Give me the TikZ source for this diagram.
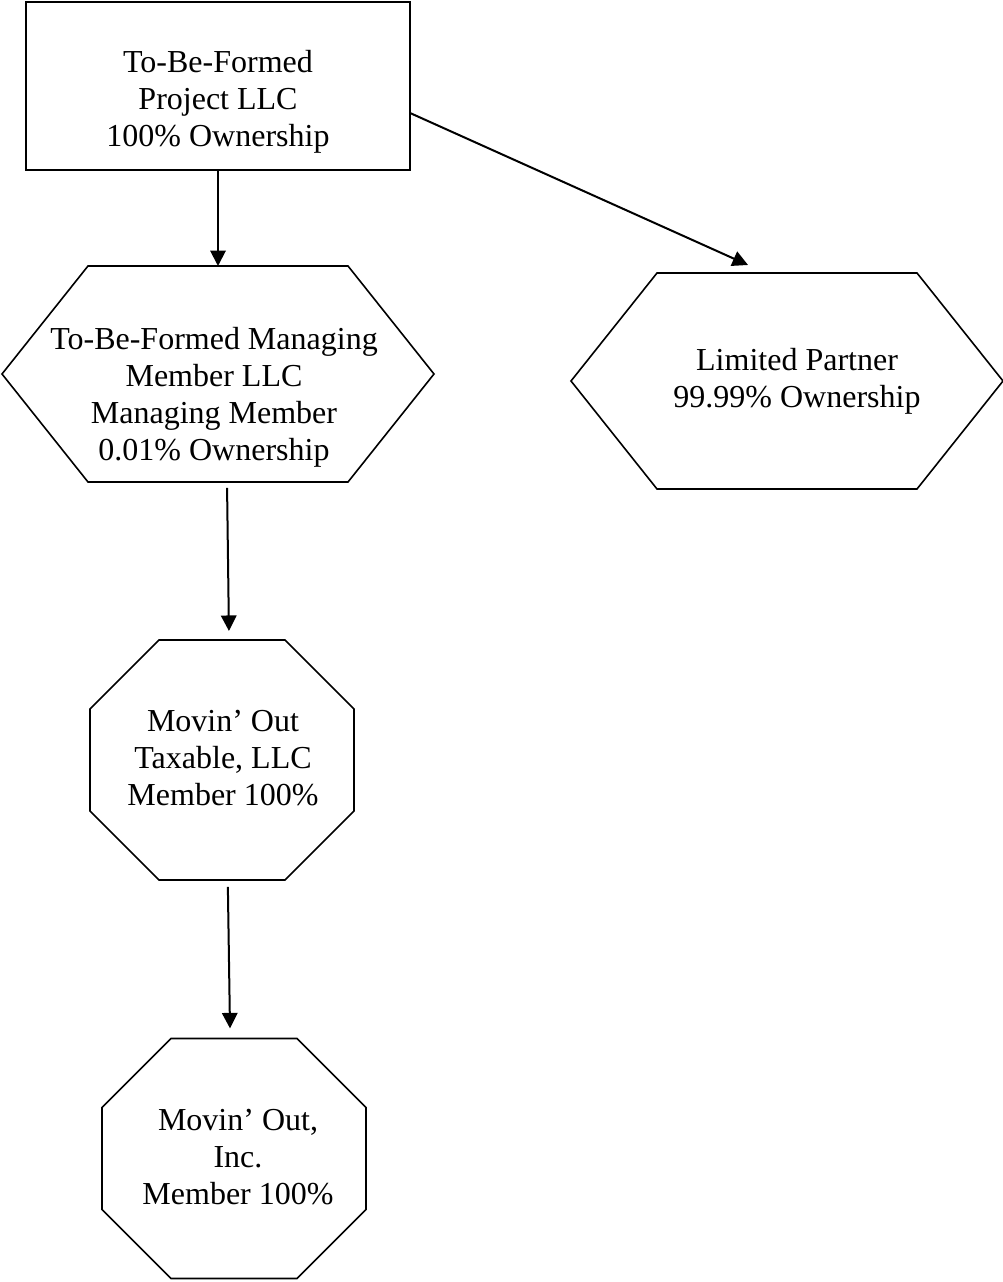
\documentclass[tikz,border=0pt]{standalone}
\usepackage{fontspec}
\setmainfont{Liberation Serif}
\usetikzlibrary{arrows.meta}

\begin{document}
\begin{tikzpicture}[x=0.375pt,y=-0.375pt,>={Triangle[length=5.8pt,width=5.8pt]},
	every node/.style={font=\fontsize{12pt}{13.9pt}\selectfont,inner sep=0pt,outer sep=0pt},
	txt/.style={align=center},
	box node/.style={draw,line width=0.6pt,minimum width=144pt,minimum height=63pt},
	hex node/.style={minimum width=162pt,minimum height=81pt,
		append after command={\pgfextra{\draw[line width=0.6pt]
			(\tikzlastnode.west) -- ([xshift=32.25pt]\tikzlastnode.north west)
			-- ([xshift=-32.25pt]\tikzlastnode.north east) -- (\tikzlastnode.east)
			-- ([xshift=-32.25pt]\tikzlastnode.south east)
			-- ([xshift=32.25pt]\tikzlastnode.south west) -- cycle;}}},
	oct node/.style={minimum width=99pt,minimum height=90pt,
		append after command={\pgfextra{\draw[line width=0.6pt]
			([yshift=-25.9pt]\tikzlastnode.north west) -- ([xshift=25.9pt]\tikzlastnode.north west)
			-- ([xshift=-25.9pt]\tikzlastnode.north east) -- ([yshift=-25.9pt]\tikzlastnode.north east)
			-- ([yshift=25.9pt]\tikzlastnode.south east) -- ([xshift=-25.9pt]\tikzlastnode.south east)
			-- ([xshift=25.9pt]\tikzlastnode.south west) -- ([yshift=25.9pt]\tikzlastnode.south west) -- cycle;}}}]
	
	\useasboundingbox (0,0) rectangle (1002,1282);
	
	\node[box node] (proj) at (218,86) {};
	\node[hex node] (mgr) at (218,374) {};
	\node[hex node] (lp) at (787,381) {};
	\node[oct node] (taxable) at (222,760) {};
	\node[oct node] (inc) at (234,1158.5) {};
	\coordinate (lp-tip) at (748,265);
	
	\node[txt] (proj-txt) at (218,102) {To-Be-Formed\\Project LLC\\100\% Ownership};
	\node[txt] (mgr-txt) at (214,397) {To-Be-Formed Managing\\Member LLC\\Managing Member\\0.01\% Ownership};
	\node[txt] (lp-txt) at (797,381) {Limited Partner\\99.99\% Ownership};
	\node[txt] (taxable-txt) at (223,758) {Movin’ Out\\Taxable, LLC\\Member 100\%};
	\node[txt] (inc-txt) at (238,1157) {Movin’ Out,\\Inc.\\Member 100\%};
	
	\path[->,line width=0.75pt]
	(proj.south) edge (mgr.north)
	(proj.-8.6) edge (lp-tip)
	([xshift=3.4pt,yshift=-2.2pt]mgr.south) edge ([xshift=2.6pt,yshift=3.4pt]taxable.north)
	([xshift=2.2pt,yshift=-2.6pt]taxable.south) edge ([xshift=-1.5pt,yshift=3.8pt]inc.north)
	;
\end{tikzpicture}
\end{document}
